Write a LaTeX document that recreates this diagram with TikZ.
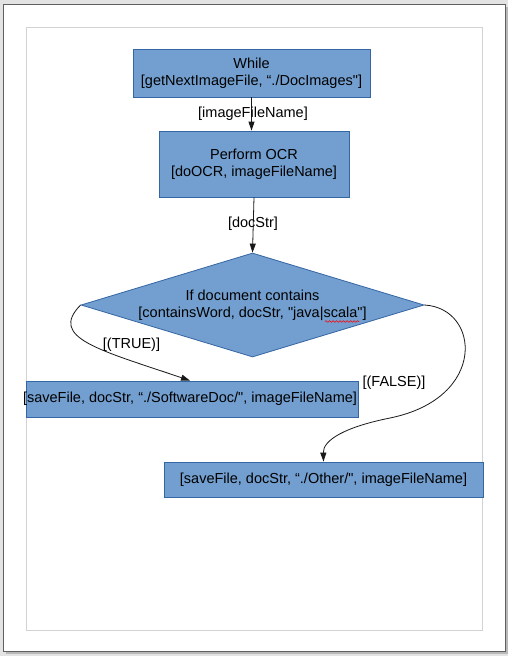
\documentclass[tikz,border=0pt]{standalone}
\usepackage{fontspec}
\setmainfont{Liberation Sans}
\newfontfamily\libsans{Liberation Sans}
\usetikzlibrary{shapes.geometric,arrows.meta,decorations.pathmorphing}
\definecolor{boxfill}{HTML}{729FCF}
\definecolor{boxline}{HTML}{3465A4}
\newcommand\dfs{\libsans\fontsize{14.5}{16.7}\selectfont}
\begin{document}
\begin{tikzpicture}[x=1pt,y=-1pt,
  blk/.style={draw=boxline, fill=boxfill, line width=0.8pt, align=center, font=\dfs, inner sep=0pt},
  lbl/.style={font=\dfs, inner sep=0pt, text=black},
  conn/.style={draw=black!90, line width=0.8pt, -{Triangle[length=9pt,width=6pt]}}]
\useasboundingbox (0,0) rectangle (508,656);
% page
\fill[gray!22] (0,0) rectangle (508,656);
\fill[gray!55] (6,7) rectangle (507.5,654);
\draw[fill=white, draw=gray!75!black, line width=0.8pt] (3.5,4) rectangle (505,651);
\draw[gray!35, line width=0.8pt] (26,27) rectangle (482,630);
% nodes
\node[blk, minimum width=237pt, minimum height=48pt] (wh) at (251.5,73) {While\\{[}getNextImageFile, “./DocImages"{]}};
\node[blk, minimum width=190pt, minimum height=66pt] (ocr) at (254,164) {Perform OCR\\{[}doOCR, imageFileName{]}};
\node[diamond, aspect=3.3, draw=boxline, fill=boxfill, line width=0.8pt, minimum width=343pt, minimum height=104pt, inner sep=0pt, align=center, font=\dfs] (dec) at (252.5,305) {If document contains\\{[}containsWord, docStr, "java|scala"{]}};
\node[blk, minimum width=332pt, minimum height=36pt] (sw) at (192,399) {};
\node[lbl] (swt) at (190,399) {[saveFile, docStr, “./SoftwareDoc/", imageFileName]};
\node[blk, minimum width=319pt, minimum height=35pt] (ot) at (323.5,479.5) {[saveFile, docStr, “./Other/", imageFileName]};
% spell-check squiggle
\draw[red, line width=0.6pt, decorate, decoration={snake, amplitude=0.8pt, segment length=3.5pt}] (325,321.5) -- (359,321.5);
% connectors
\draw[conn] (wh.south) -- (wh.south |- ocr.north);
\draw[conn] (ocr.south) -- (dec.north);
\draw[conn] (dec.west) .. controls (48,338) and (100,350) .. ([xshift=-2pt]sw.north);
\draw[conn] (dec.east) .. controls (480,308) and (488,398) .. (390,418) .. controls (345,427) and (323,440) .. (ot.north);
% labels
\node[lbl] (l1) at (253,114) {[imageFileName]};
\node[lbl] (l2) at (253,224) {[docStr]};
\node[lbl] (lt) at (131.5,345) {[(TRUE)]};
\node[lbl] (lf) at (394,383) {[(FALSE)]};
\end{tikzpicture}
\end{document}
